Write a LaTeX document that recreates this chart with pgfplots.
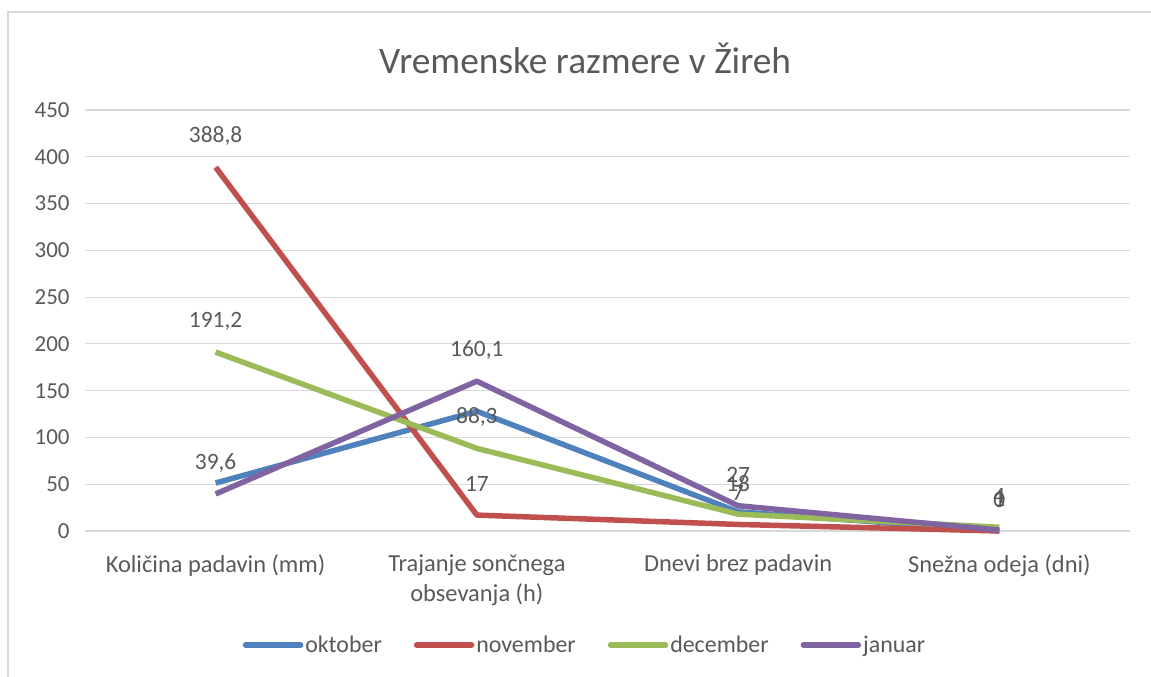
\documentclass[border=0pt]{standalone}
\usepackage{fontspec}
\setmainfont{Carlito}
\usepackage{pgfplots}
\pgfplotsset{compat=1.18}
\definecolor{txt}{HTML}{595959}
\definecolor{gcol}{HTML}{D9D9D9}
\definecolor{cblue}{HTML}{4F81BD}
\definecolor{cred}{HTML}{C0504D}
\definecolor{cgreen}{HTML}{9BBB59}
\definecolor{cpurple}{HTML}{8064A2}
\begin{document}
\begin{tikzpicture}[x=1bp,y=1bp]
\path[use as bounding box] (0,0) rectangle (1151,677);
\draw[gcol, line width=1.5bp] (8,0) -- (8,665) -- (1151,665);
\node[txt, font=\fontsize{37.5}{44}\selectfont] at (585,619) {Vremenske razmere v Žireh};
\begin{axis}[
  at={(85bp,146bp)}, anchor=south west,
  scale only axis, width=1045bp, height=421bp,
  xmin=-0.5, xmax=3.5, ymin=0, ymax=450,
  ytick={0,50,...,450},
  xtick=data,
  xticklabels={Količina padavin (mm), {Trajanje sončnega\\obsevanja (h)}, Dnevi brez padavin, Snežna odeja (dni)},
  axis line style={draw=none},
  major tick style={draw=none},
  ymajorgrids=true, xmajorgrids=false, major grid style={color=gcol, line width=1.2bp},
  /pgf/number format/assume math mode=true,
  /pgf/number format/use comma,
  ticklabel style={txt, font=\fontsize{23}{30}\selectfont},
  xticklabel style={align=center, yshift=-20bp, font=\fontsize{24.5}{30}\selectfont},
  yticklabel style={xshift=-12bp},
  every node near coord/.append style={txt, font=\fontsize{23.5}{28}\selectfont, anchor=center, yshift=31bp},
  legend style={at={(0.4785,-0.2708)}, anchor=center, draw=none, legend columns=4,
    font=\fontsize{24}{28}\selectfont, text=txt,
    /tikz/every even column/.append style={column sep=30bp}},
  legend image code/.code={\draw[#1, line width=5.5bp, line cap=round] (0bp,0bp) -- (55bp,0bp);},
  clip=false,
]
\addplot[cblue, line width=5.5bp, line join=round] coordinates {(0,51.3) (1,128) (2,20.5) (3,0)};
\addlegendentry{oktober}
\addplot[cred, line width=5.5bp, line join=round, nodes near coords] coordinates {(0,388.8) (1,17) (2,7) (3,0)};
\addlegendentry{november}
\addplot[cgreen, line width=5.5bp, line join=round, nodes near coords] coordinates {(0,191.2) (1,88.3) (2,18) (3,4)};
\addlegendentry{december}
\addplot[cpurple, line width=5.5bp, line join=round, nodes near coords] coordinates {(0,39.6) (1,160.1) (2,27) (3,1)};
\addlegendentry{januar}
\end{axis}
\end{tikzpicture}
\end{document}
